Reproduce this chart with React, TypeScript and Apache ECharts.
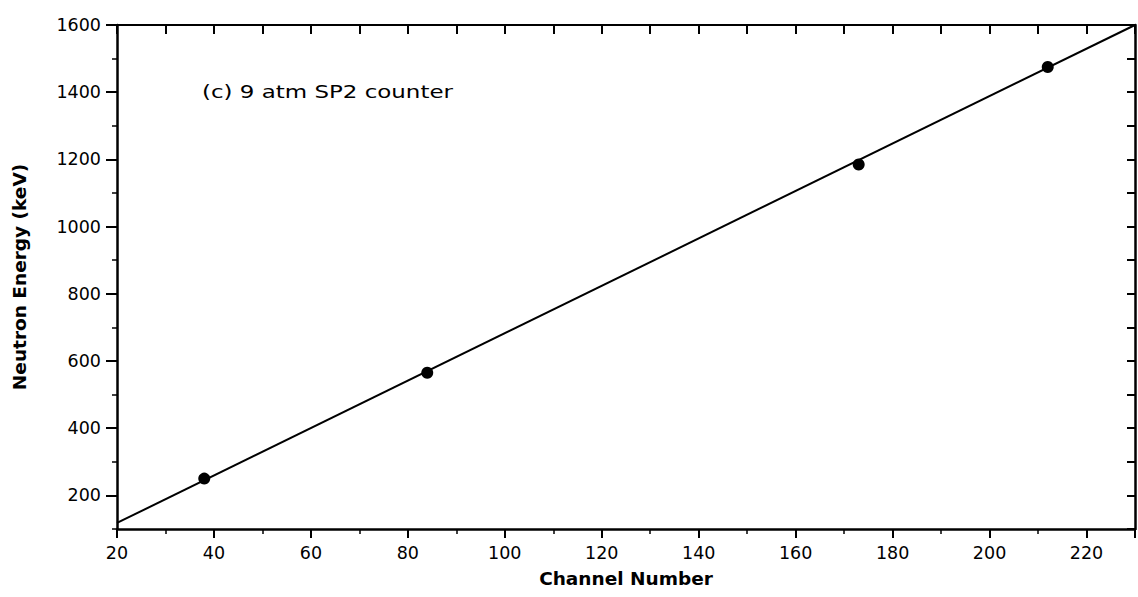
import React, { useEffect, useRef } from "react";
import * as echarts from "echarts";

const pointX = [38, 84, 173, 212];
const pointY = [250, 565, 1185, 1475];
const fitX = [20, 230];
const fitY = [118, 1600];
const yMajorTicks = [200, 400, 600, 800, 1000, 1200, 1400, 1600];
const annotation = "(c) 9 atm SP2 counter";
const xTitle = "Channel Number";
const yTitle = "Neutron Energy (keV)";

const FONT = "'DejaVu Sans', 'Liberation Sans', Arial, sans-serif";

export default function App() {
  const ref = useRef<HTMLDivElement>(null);
  useEffect(() => {
    if (!ref.current) return;
    const chart = echarts.init(ref.current, undefined, { renderer: "svg" });
    const axisLine = { show: true, lineStyle: { color: "#000", width: 2.5 } };
    const labelStyle = { color: "#000", fontSize: 17.5, fontFamily: FONT };
    const titleStyle = { color: "#000", fontSize: 18.5, fontWeight: "bold", fontFamily: FONT };
    chart.setOption({
      animation: false,
      backgroundColor: "#fff",
      grid: { left: 117, right: 3, top: 25, bottom: 68, containLabel: false },
      xAxis: [
        {
          type: "value",
          position: "bottom",
          min: 20,
          max: 230,
          interval: 20,
          name: xTitle,
          nameLocation: "middle",
          nameGap: 40,
          nameTextStyle: titleStyle,
          axisLine,
          axisTick: { show: true, inside: false, length: 9, lineStyle: { color: "#000", width: 2 } },
          minorTick: { show: true, splitNumber: 2, length: 5, lineStyle: { color: "#000", width: 1.5 } },
          axisLabel: { ...labelStyle, margin: 15, showMaxLabel: false, formatter: (v: number) => (v === 230 ? "" : String(v)) },
          splitLine: { show: false },
        },
        {
          type: "value",
          position: "top",
          min: 20,
          max: 230,
          interval: 10,
          axisLine: { show: true, lineStyle: { color: "#000", width: 2 } },
          axisTick: { show: true, inside: true, length: 9, lineStyle: { color: "#000", width: 2 } },
          axisLabel: { show: false },
          splitLine: { show: false },
        },
      ],
      yAxis: [
        {
          type: "value",
          position: "left",
          min: 100,
          max: 1600,
          interval: 100,
          name: yTitle,
          nameLocation: "middle",
          nameGap: 88,
          nameTextStyle: titleStyle,
          axisLine,
          axisTick: { show: true, inside: false, length: 11, customValues: yMajorTicks, lineStyle: { color: "#000", width: 2 } },
          axisLabel: { ...labelStyle, margin: 16, customValues: yMajorTicks, formatter: (v: number) => String(v) },
          splitLine: { show: false },
        },
        {
          type: "value",
          position: "left",
          min: 100,
          max: 1600,
          interval: 100,
          axisLine: { show: false },
          axisTick: { show: true, inside: false, length: 5, lineStyle: { color: "#000", width: 1.5 } },
          axisLabel: { show: false },
          splitLine: { show: false },
        },
        {
          type: "value",
          position: "right",
          min: 100,
          max: 1600,
          interval: 100,
          axisLine: { show: true, lineStyle: { color: "#000", width: 2.5 } },
          axisTick: { show: true, inside: true, length: 8, lineStyle: { color: "#000", width: 2 } },
          axisLabel: { show: false },
          splitLine: { show: false },
        },
      ],
      graphic: [
        {
          type: "text",
          x: 202,
          y: 92,
          scaleX: 1.35,
          style: { text: annotation, fill: "#000", fontSize: 17, fontFamily: FONT, verticalAlign: "middle", align: "left" },
        },
      ],
      series: [
        {
          type: "line",
          xAxisIndex: 0,
          yAxisIndex: 0,
          data: fitX.map((x, i) => [x, fitY[i]]),
          showSymbol: false,
          lineStyle: { color: "#000", width: 2 },
          z: 2,
        },
        {
          type: "scatter",
          xAxisIndex: 0,
          yAxisIndex: 0,
          data: pointX.map((x, i) => [x, pointY[i]]),
          symbol: "circle",
          symbolSize: 12,
          itemStyle: { color: "#000", opacity: 1 },
          z: 3,
        },
      ],
    });
    return () => chart.dispose();
  }, []);
  return <div ref={ref} style={{ width: 1138, height: 597, position: "absolute", left: 0, top: 0 }} />;
}
